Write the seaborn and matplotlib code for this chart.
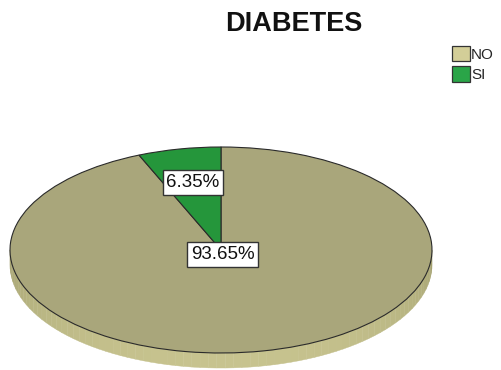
import numpy as np
import matplotlib
matplotlib.use("Agg")
import matplotlib.pyplot as plt
import seaborn as sns
from matplotlib.patches import Patch, Polygon

# ---- data ----
title = "DIABETES"
categories = ["NO", "SI"]
percents = [93.65, 6.35]

sns.set_style("white")
plt.rcParams['font.family'] = ['Liberation Sans', 'DejaVu Sans']

legend_colors = ['#d3ce98', '#2aa548']
top_colors = ['#a9a67b', '#25963b']

fig = plt.figure(figsize=(5.01, 3.70), dpi=100)
ax = fig.add_axes([0, 0, 1, 1])

wedges, _ = ax.pie(percents, colors=top_colors, startangle=90, counterclock=False,
                   radius=1, center=(0, 0),
                   wedgeprops=dict(edgecolor='#2a2a2a', linewidth=0.8))
for w in wedges:
    w.set_zorder(2)

# 3D side of the disc (front half)
depth = 0.146
edge_c = np.array([0.62, 0.61, 0.42])
front_c = np.array([0.78, 0.765, 0.56])
ts = np.linspace(np.pi, 2 * np.pi, 80)
for t0, t1 in zip(ts[:-1], ts[1:]):
    tm = 0.5 * (t0 + t1)
    w = (-np.sin(tm)) ** 0.6
    c = edge_c + (front_c - edge_c) * w
    poly = Polygon([(np.cos(t0), np.sin(t0)), (np.cos(t1), np.sin(t1)),
                    (np.cos(t1), np.sin(t1) - depth), (np.cos(t0), np.sin(t0) - depth)],
                   closed=True, facecolor=c, edgecolor=c, linewidth=0.3, zorder=1)
    ax.add_patch(poly)

# labels
label_r = {"NO": 0.045, "SI": 0.67}
for wdg, cat, p in zip(wedges, categories, percents):
    ang = np.deg2rad(0.5 * (wdg.theta1 + wdg.theta2))
    r = label_r[cat]
    ax.text(r * np.cos(ang), r * np.sin(ang), f"{p:.2f}%", ha='center', va='center',
            fontsize=13.5, color='#111111', zorder=5,
            bbox=dict(boxstyle='square,pad=0.2', fc='white', ec='#333333', lw=1))

ax.set_aspect('auto')
ax.set_xlim(-221 / 211, 280 / 211)
ax.set_ylim(-120 / 103, 250 / 103)
ax.axis('off')

fig.text(294 / 501, 1 - 31 / 370, title, ha='center', va='baseline',
         fontsize=19.5, fontweight='bold', color='#111111')

handles = [Patch(facecolor=c, edgecolor='#333333', linewidth=0.9) for c in legend_colors]
fig.legend(handles, categories, loc='upper left', bbox_to_anchor=(452 / 501, 1 - 46 / 370),
           frameon=False, fontsize=11, handlelength=1.15, handleheight=1.15,
           handletextpad=0.1, labelspacing=0.3, borderpad=0, borderaxespad=0)

fig.savefig("out.png", dpi=100)
